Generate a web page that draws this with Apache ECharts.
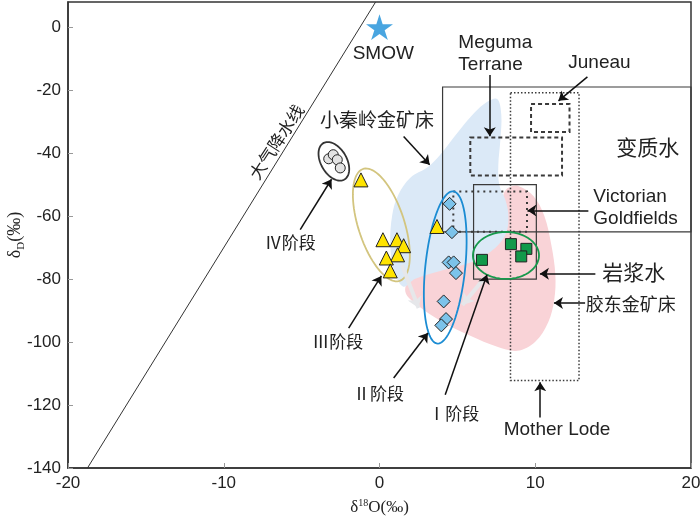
<!DOCTYPE html>
<html>
<head>
<meta charset="UTF-8">
<title>δD-δ18O 图解</title>
<script src="https://cdn.jsdelivr.net/npm/echarts@6/dist/echarts.min.js"></script>
<style>html,body{margin:0;padding:0;background:#fff;} #main{width:700px;height:516px;}</style>
</head>
<body>
<div id="main"></div>
<script type="text/javascript">
// 样品数据 [δ18O, δD]
var stage4 = [[-3.26, -41.8], [-2.97, -40.5], [-2.71, -42.1], [-2.52, -44.7]];
var stage3 = [[-1.19, -48.5], [0.22, -67.5], [1.12, -67.5], [1.55, -69.4], [1.16, -72.3], [0.44, -73.3], [0.69, -77.4], [3.69, -63.3]];
var stage2 = [[4.50, -56.1], [4.65, -65.1], [4.44, -74.7], [4.76, -74.7], [4.91, -78.1], [4.12, -87.1], [4.27, -92.7], [3.97, -94.7]];
var stage1 = [[6.58, -73.9], [8.44, -68.9], [9.43, -70.4], [9.10, -72.8]];
var smow = [[0, 0]];
var meteoricLine = [[-18.75, -140], [-0.25, 8]];

// 区域轮廓
var xiaoqinlingArea = [[7.56, -22.8], [7.82, -27.8], [7.76, -35.8], [7.63, -43.7], [7.69, -50.1], [8.08, -54.8], [8.27, -59.6], [8.14, -65.3], [7.43, -70.1], [5.96, -74.5], [3.90, -77.4], [2.30, -79.9], [1.53, -82.4], [0.95, -77.7], [0.69, -69.1], [0.82, -59.6], [1.21, -53.2], [1.98, -47.8], [3.13, -44.3], [3.90, -40.5], [5.06, -33.2], [6.09, -27.2], [6.92, -23.7]];
var jiaodongArea = [[1.66, -84.0], [2.11, -78.9], [3.90, -74.5], [5.83, -70.7], [7.43, -65.9], [7.88, -58.6], [7.95, -53.2], [8.27, -51.0], [8.91, -50.4], [9.88, -53.6], [10.58, -59.9], [11.03, -69.1], [11.29, -78.6], [11.22, -86.6], [10.84, -93.6], [10.00, -99.9], [8.85, -102.8], [7.56, -101.5], [5.83, -98.0], [4.03, -93.6], [2.49, -88.5]];

// 范围框 [x1, y1, x2, y2]
var metamorphicBox = [4.05, -19, 20, -65];
var magmaticBox = [6.04, -50, 10.07, -80];
var megumaBox = [5.83, -35, 11.72, -47.1];
var juneauBox = [9.73, -24.4, 12.2, -33.3];
var motherLodeBox = [8.41, -20.8, 12.81, -112.2];
var victorianBox = [4.74, -52.2, 9.47, -65];

// 各阶段包络椭圆 [cx, cy, rx, ry, 倾角]
var stageEllipses = [[-2.93, -42.6, 0.83, 6.67, -30], [0.12, -62.8, 1.48, 18.7, -18], [4.22, -76.3, 1.28, 24.3, 6], [8.12, -72.5, 2.12, 7.46, 0]];
var ellipseColors = ['#333333', '#d3c57f', '#1b8cd3', '#17994c'];

// 箭头
var arrows = [
  [[1.55, -34.7], [3.22, -43.7]],
  [[7.08, -15.2], [7.08, -34.6]],
  [[13.35, -15.8], [11.49, -23.4]],
  [[13.41, -58.2], [9.5, -58.2]],
  [[13.86, -78.3], [10.3, -78.3]],
  [[13.2, -87.6], [11.2, -87.6]],
  [[10.32, -124], [10.32, -112.8]],
  [[-5.09, -64.3], [-3.08, -48.3]],
  [[-1.98, -95.6], [0.12, -79.0]],
  [[0.91, -111.4], [3.11, -97.1]],
  [[4.22, -116.7], [6.90, -78.6]]
];
var fadedArrows = [
  [[1.44, -75.5], [2.51, -89.2]],
  [[6.80, -79.3], [5.32, -88.2]]
];

var cjk = 'Noto Sans CJK SC';
var latin = 'Liberation Sans';
var notes = [
  {text: '大气降水线', at: [-6.62, -36.4], size: 17, font: cjk, rotate: 57},
  {text: 'SMOW', at: [0.24, -8.3], size: 19, font: latin},
  {text: 'Meguma', at: [5.06, -5.1], size: 19, font: latin, align: 'left'},
  {text: 'Terrane', at: [5.06, -11.8], size: 19, font: latin, align: 'left'},
  {text: 'Juneau', at: [12.12, -11.3], size: 19, font: latin, align: 'left'},
  {text: '变质水', at: [17.23, -38.1], size: 21, font: cjk},
  {text: 'Victorian', at: [13.73, -53.9], size: 19, font: latin, align: 'left'},
  {text: 'Goldfields', at: [13.73, -60.7], size: 19, font: latin, align: 'left'},
  {text: '岩浆水', at: [16.32, -77.6], size: 21, font: cjk},
  {text: '胶东金矿床', at: [13.25, -88.1], size: 18, font: cjk, align: 'left'},
  {text: '小秦岭金矿床', at: [-0.16, -29.4], size: 19, font: cjk},
  {text: 'Ⅳ阶段', at: [-5.73, -68.3], size: 17, font: cjk},
  {text: 'Ⅲ阶段', at: [-2.68, -99.8], size: 17, font: cjk},
  {text: 'Ⅱ阶段', at: [-0.06, -116.5], size: 17, font: cjk},
  {text: 'Ⅰ阶段', at: [4.76, -122.8], size: 17, font: cjk},
  {text: 'Mother Lode', at: [11.4, -127.8], size: 19, font: latin}
];

var starPath = 'path://M50,0 L61.2,34.5 L97.6,34.5 L68.2,55.9 L79.4,90.5 L50,69.1 L20.6,90.5 L31.8,55.9 L2.4,34.5 L38.8,34.5 Z';

var myChart = echarts.init(document.getElementById('main'));

function areaSeries(points, color) {
  return {
    type: 'custom', coordinateSystem: 'cartesian2d', silent: true, z: 1,
    data: [[points[0][0], points[0][1]]],
    renderItem: function (params, api) {
      return {
        type: 'polygon',
        shape: {points: points.map(function (p) { return api.coord(p); }), smooth: 0.35},
        style: {fill: color}
      };
    }
  };
}

function boxSeries(boxes, width, dash) {
  return {
    type: 'custom', coordinateSystem: 'cartesian2d', silent: true, z: 3,
    data: boxes,
    renderItem: function (params, api) {
      var b = boxes[params.dataIndex];
      var p1 = api.coord([b[0], b[1]]), p2 = api.coord([b[2], b[3]]);
      return {
        type: 'rect',
        shape: {x: Math.min(p1[0], p2[0]), y: Math.min(p1[1], p2[1]), width: Math.abs(p2[0] - p1[0]), height: Math.abs(p2[1] - p1[1])},
        style: {fill: 'none', stroke: '#3a3a3a', lineWidth: width, lineDash: dash}
      };
    }
  };
}

function ellipseSeries() {
  return {
    type: 'custom', coordinateSystem: 'cartesian2d', silent: true, z: 4,
    data: stageEllipses,
    renderItem: function (params, api) {
      var e = stageEllipses[params.dataIndex];
      var c = api.coord([e[0], e[1]]);
      var a = api.size([e[2], 0])[0], b = api.size([0, e[3]])[1];
      var r = e[4] * Math.PI / 180;
      var pts = [];
      for (var i = 0; i < 90; i++) {
        var t = i / 90 * 2 * Math.PI;
        var x = a * Math.cos(t), y = b * Math.sin(t);
        pts.push([c[0] + x * Math.cos(r) - y * Math.sin(r), c[1] + x * Math.sin(r) + y * Math.cos(r)]);
      }
      return {type: 'polygon', shape: {points: pts}, style: {fill: 'none', stroke: ellipseColors[params.dataIndex], lineWidth: 1.8}};
    }
  };
}

function noteSeries() {
  return {
    type: 'custom', coordinateSystem: 'cartesian2d', silent: true, z: 9,
    data: notes.map(function (n) { return [n.at[0], n.at[1]]; }),
    renderItem: function (params, api) {
      var n = notes[params.dataIndex];
      var p = api.coord(n.at);
      return {
        type: 'text', x: p[0], y: p[1], rotation: (n.rotate || 0) * Math.PI / 180,
        style: {text: n.text, fontSize: n.size, fontFamily: n.font, fill: '#222', align: n.align || 'center', verticalAlign: 'middle'}
      };
    }
  };
}

function scatter(data, symbol, size, color) {
  return {
    type: 'scatter', data: data, symbol: symbol, symbolSize: size, z: 6, silent: true,
    itemStyle: {color: color, borderColor: '#222', borderWidth: 1, opacity: 1}
  };
}

var option = {
  animation: false,
  backgroundColor: '#fff',
  grid: {left: 68, right: 9, top: 2, bottom: 48, show: true, borderColor: '#333', borderWidth: 1.5, containLabel: false, outerBoundsMode: 'none'},
  xAxis: {
    type: 'value', min: -20, max: 20, interval: 10,
    axisLine: {onZero: false, lineStyle: {color: '#333', width: 1.5}},
    axisTick: {inside: true, length: 5, lineStyle: {color: '#999'}},
    axisLabel: {fontSize: 17, fontFamily: latin, color: '#222', margin: 7},
    splitLine: {show: false},
    name: '{a|δ}{b|18}{a|O(‰)}', nameLocation: 'middle', nameGap: 30, nameMoveOverlap: false,
    nameTextStyle: {rich: {
      a: {fontSize: 17, fontFamily: 'Liberation Serif', color: '#222', lineHeight: 20},
      b: {fontSize: 10, fontFamily: 'Liberation Serif', color: '#222', lineHeight: 12, verticalAlign: 'top'}
    }}
  },
  yAxis: {
    type: 'value', min: -140, max: 8, interval: 20,
    axisLine: {onZero: false, lineStyle: {color: '#333', width: 1.5}},
    axisTick: {inside: true, length: 5, lineStyle: {color: '#999'}},
    axisLabel: {fontSize: 17, fontFamily: latin, color: '#222', margin: 7, showMaxLabel: false},
    splitLine: {show: false},
    name: '{a|δ}{b|D}{a|(‰)}', nameLocation: 'middle', nameGap: 41, nameMoveOverlap: false,
    nameTextStyle: {rich: {
      a: {fontSize: 18, fontFamily: 'Liberation Serif', color: '#222', lineHeight: 24},
      b: {fontSize: 11, fontFamily: 'Liberation Serif', color: '#222', lineHeight: 11, verticalAlign: 'bottom'}
    }}
  },
  series: [
    areaSeries(jiaodongArea, '#f9d3d7'),
    areaSeries(xiaoqinlingArea, '#dbe9f7'),
    {
      type: 'line', data: meteoricLine, showSymbol: false, silent: true, z: 3,
      lineStyle: {color: '#333', width: 1}
    },
    boxSeries([metamorphicBox, magmaticBox], 1.2, null),
    boxSeries([megumaBox, juneauBox], 2, [4, 3]),
    boxSeries([victorianBox], 2, [2, 4]),
    boxSeries([motherLodeBox], 1.5, [1.5, 2]),
    ellipseSeries(),
    {
      type: 'lines', coordinateSystem: 'cartesian2d', silent: true, z: 4,
      data: fadedArrows.map(function (c) { return {coords: c}; }),
      symbol: ['none', 'arrow'], symbolSize: 11,
      lineStyle: {color: '#e6e7ea', width: 4, opacity: 1}
    },
    scatter(stage4, 'circle', 10, '#e2e2e2'),
    scatter(stage3, 'triangle', 14, '#ffe400'),
    scatter(stage2, 'diamond', 13, '#7cc3ea'),
    scatter(stage1, 'rect', 11, '#12994a'),
    {
      type: 'scatter', data: smow, symbol: starPath, symbolKeepAspect: true, symbolSize: 27, z: 6, silent: true,
      itemStyle: {color: '#1b8fd8'}
    },
    {
      type: 'lines', coordinateSystem: 'cartesian2d', silent: true, z: 8,
      data: arrows.map(function (c) { return {coords: c}; }),
      symbol: ['none', 'arrow'], symbolSize: 9,
      lineStyle: {color: '#111', width: 1.5, opacity: 1}
    },
    noteSeries()
  ]
};

myChart.setOption(option);
</script>
</body>
</html>
